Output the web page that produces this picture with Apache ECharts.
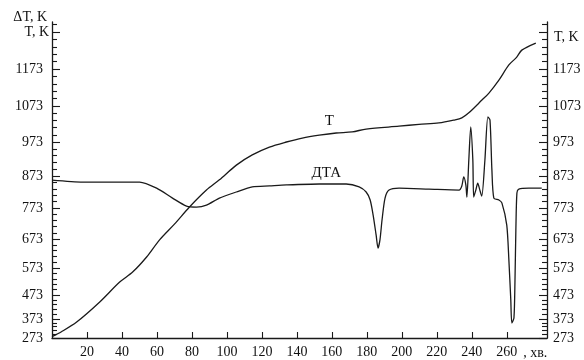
<!DOCTYPE html>
<html><head><meta charset="utf-8">
<script src="https://cdn.jsdelivr.net/npm/echarts@6/dist/echarts.min.js"></script>
<style>html,body{margin:0;padding:0;background:#fff}#c{width:584px;height:360px}</style>
</head><body><div id="c"></div>
<script>
// T curve: time (min) and temperature (K)
const tTime = [0,5.4,14.1,27.3,38.7,46.1,54.1,61.5,70.0,78.6,88.3,95.7,105.4,114.5,124.3,134.0,143.1,152.8,162.5,171.6,179.6,198.4,209.8,221.2,229.8,234.3,238.3,245.8,249.8,255.5,261.2,265.7,268.6,276.6];
const tTemp = [280,306,357,444,521,558,611,670,721,776,829,861,905,935,958,973,984,992,998,1001,1009,1017,1022,1026,1034,1040,1054,1089,1108,1143,1184,1205,1224,1243];
// DTA curve: time (min) and reading on the K scale
const dTime = [0,17.6,37,50.1,59.8,68.9,76.9,82.6,88.3,95.7,105.4,114.5,124.3,134.0,152.8,168.2,175.6,179.6,181.9,183.6,185.3,186.4,187.5,188.7,190.4,192.7,198.4,215.5,232.7,234.3,235.4,236.6,237.2,238.3,239.4,240.6,241.1,242.3,243.4,244.6,245.7,247.5,249.2,250.4,251.5,252.6,255.5,257.2,260,261.2,262.3,262.9,264.1,264.7,265.2,265.8,266.9,272.6,280];
const dTemp = [860,854,854,854,835,804,779,776,782,804,823,839,842,845,848,848,839,823,798,750,686,642,670,735,804,829,835,832,829,842,870,845,807,920,1015,920,807,829,851,829,810,920,1043,1034,891,804,798,789,718,601,452,352,377,529,702,820,832,835,835];
// axis ticks
const xTicks = [20,40,60,80,100,120,140,160,180,200,220,240,260];
const yTickLabels = [273,373,473,573,673,773,873,973,1073,1173];
// non-uniform temperature scale of the original figure: K -> axis unit
const scaleK = [273,373,473,573,673,773,873,973,1073,1173,1273];
const scaleU = [0,19,43,70,99,130,162,196,232,269,306];

function toU(k){
  let i=0; while(i<scaleK.length-2 && k>scaleK[i+1]) i++;
  return scaleU[i]+(k-scaleK[i])*(scaleU[i+1]-scaleU[i])/(scaleK[i+1]-scaleK[i]);
}
function toK(u){
  let i=0; while(i<scaleU.length-2 && u>scaleU[i+1]) i++;
  return scaleK[i]+(u-scaleU[i])*(scaleK[i+1]-scaleK[i])/(scaleU[i+1]-scaleU[i]);
}
const majorU = scaleK.map(toU);
const minorU = [];
for(let k=273;k<=1293;k+=20){ if((k-273)%100!==0) minorU.push(toU(k)); }
const labelU = yTickLabels.map(toU);

const ink = '#1a1a1a';
const font = 'Liberation Serif';
const yMax = 316;
function yAx(pos, major, showLine, showLabel){
  return {
    type:'value', position:pos, min:0, max:yMax, offset:0,
    splitLine:{show:false},
    axisLine:{show:showLine, lineStyle:{color:ink,width:1.3}},
    axisTick:{show:true, inside:true, length: major?8:5, customValues: major?majorU:minorU, lineStyle:{color:ink,width:1.1}},
    axisLabel:{show:showLabel, customValues:labelU, margin: pos==='left'?9:6,
      formatter:v=>String(Math.round(toK(v))), color:'#111', fontFamily:font, fontSize:14},
    nameLocation:'end'
  };
}
const yLeft = yAx('left', true, true, true);
yLeft.name = '{a|ΔT, K}\n{b|T, K}';
yLeft.nameGap = -3;
yLeft.nameTextStyle = {align:'right', verticalAlign:'middle', color:'#111', fontFamily:font, fontSize:14,
  rich:{a:{fontFamily:font,fontSize:14,color:'#111',lineHeight:15,padding:[0,5,0,0]},
        b:{fontFamily:font,fontSize:14,color:'#111',lineHeight:15,padding:[0,3,0,0]}}};
const yRight = yAx('right', true, true, true);
yRight.name = 'T, K';
yRight.nameGap = -15;
yRight.nameTextStyle = {align:'left', verticalAlign:'middle', color:'#111', fontFamily:font, fontSize:14, padding:[0,0,0,7]};

const chart = echarts.init(document.getElementById('c'), null, {renderer:'canvas'});
chart.setOption({
  animation:false,
  backgroundColor:'#fff',
  grid:{left:52, right:36, top:22, bottom:22, containLabel:false},
  xAxis:{
    type:'value', min:0, max:283,
    splitLine:{show:false},
    axisLine:{lineStyle:{color:ink,width:1.3}},
    axisTick:{inside:true, length:6, customValues:xTicks, lineStyle:{color:ink,width:1.1}},
    axisLabel:{customValues:xTicks, margin:7, color:'#111', fontFamily:font, fontSize:14,
      formatter:v=>String(v)},
    name:', хв.', nameLocation:'end', nameGap:-29,
    nameTextStyle:{align:'left', verticalAlign:'top', color:'#111', fontFamily:font, fontSize:14, padding:[8,0,0,0]}
  },
  yAxis:[yLeft, yRight, yAx('left', false, false, false), yAx('right', false, false, false)],
  series:[
    {type:'line', name:'T', data:tTime.map((t,i)=>[t,toU(tTemp[i])]), showSymbol:false, smooth:0.3,
      lineStyle:{color:ink,width:1.3}, yAxisIndex:0,
      markPoint:{symbol:'circle', symbolSize:0, data:[{coord:[158.5,toU(1031)]}],
        label:{show:true, position:'inside', formatter:'T', color:'#111', fontFamily:font, fontSize:15}}},
    {type:'line', name:'ДТА', data:dTime.map((t,i)=>[t,toU(dTemp[i])]), showSymbol:false, smooth:0.25,
      lineStyle:{color:ink,width:1.3}, yAxisIndex:0,
      markPoint:{symbol:'circle', symbolSize:0, data:[{coord:[156.8,toU(882)]}],
        label:{show:true, position:'inside', formatter:'ДТА', color:'#111', fontFamily:font, fontSize:15}}}
  ]
});
</script></body></html>
